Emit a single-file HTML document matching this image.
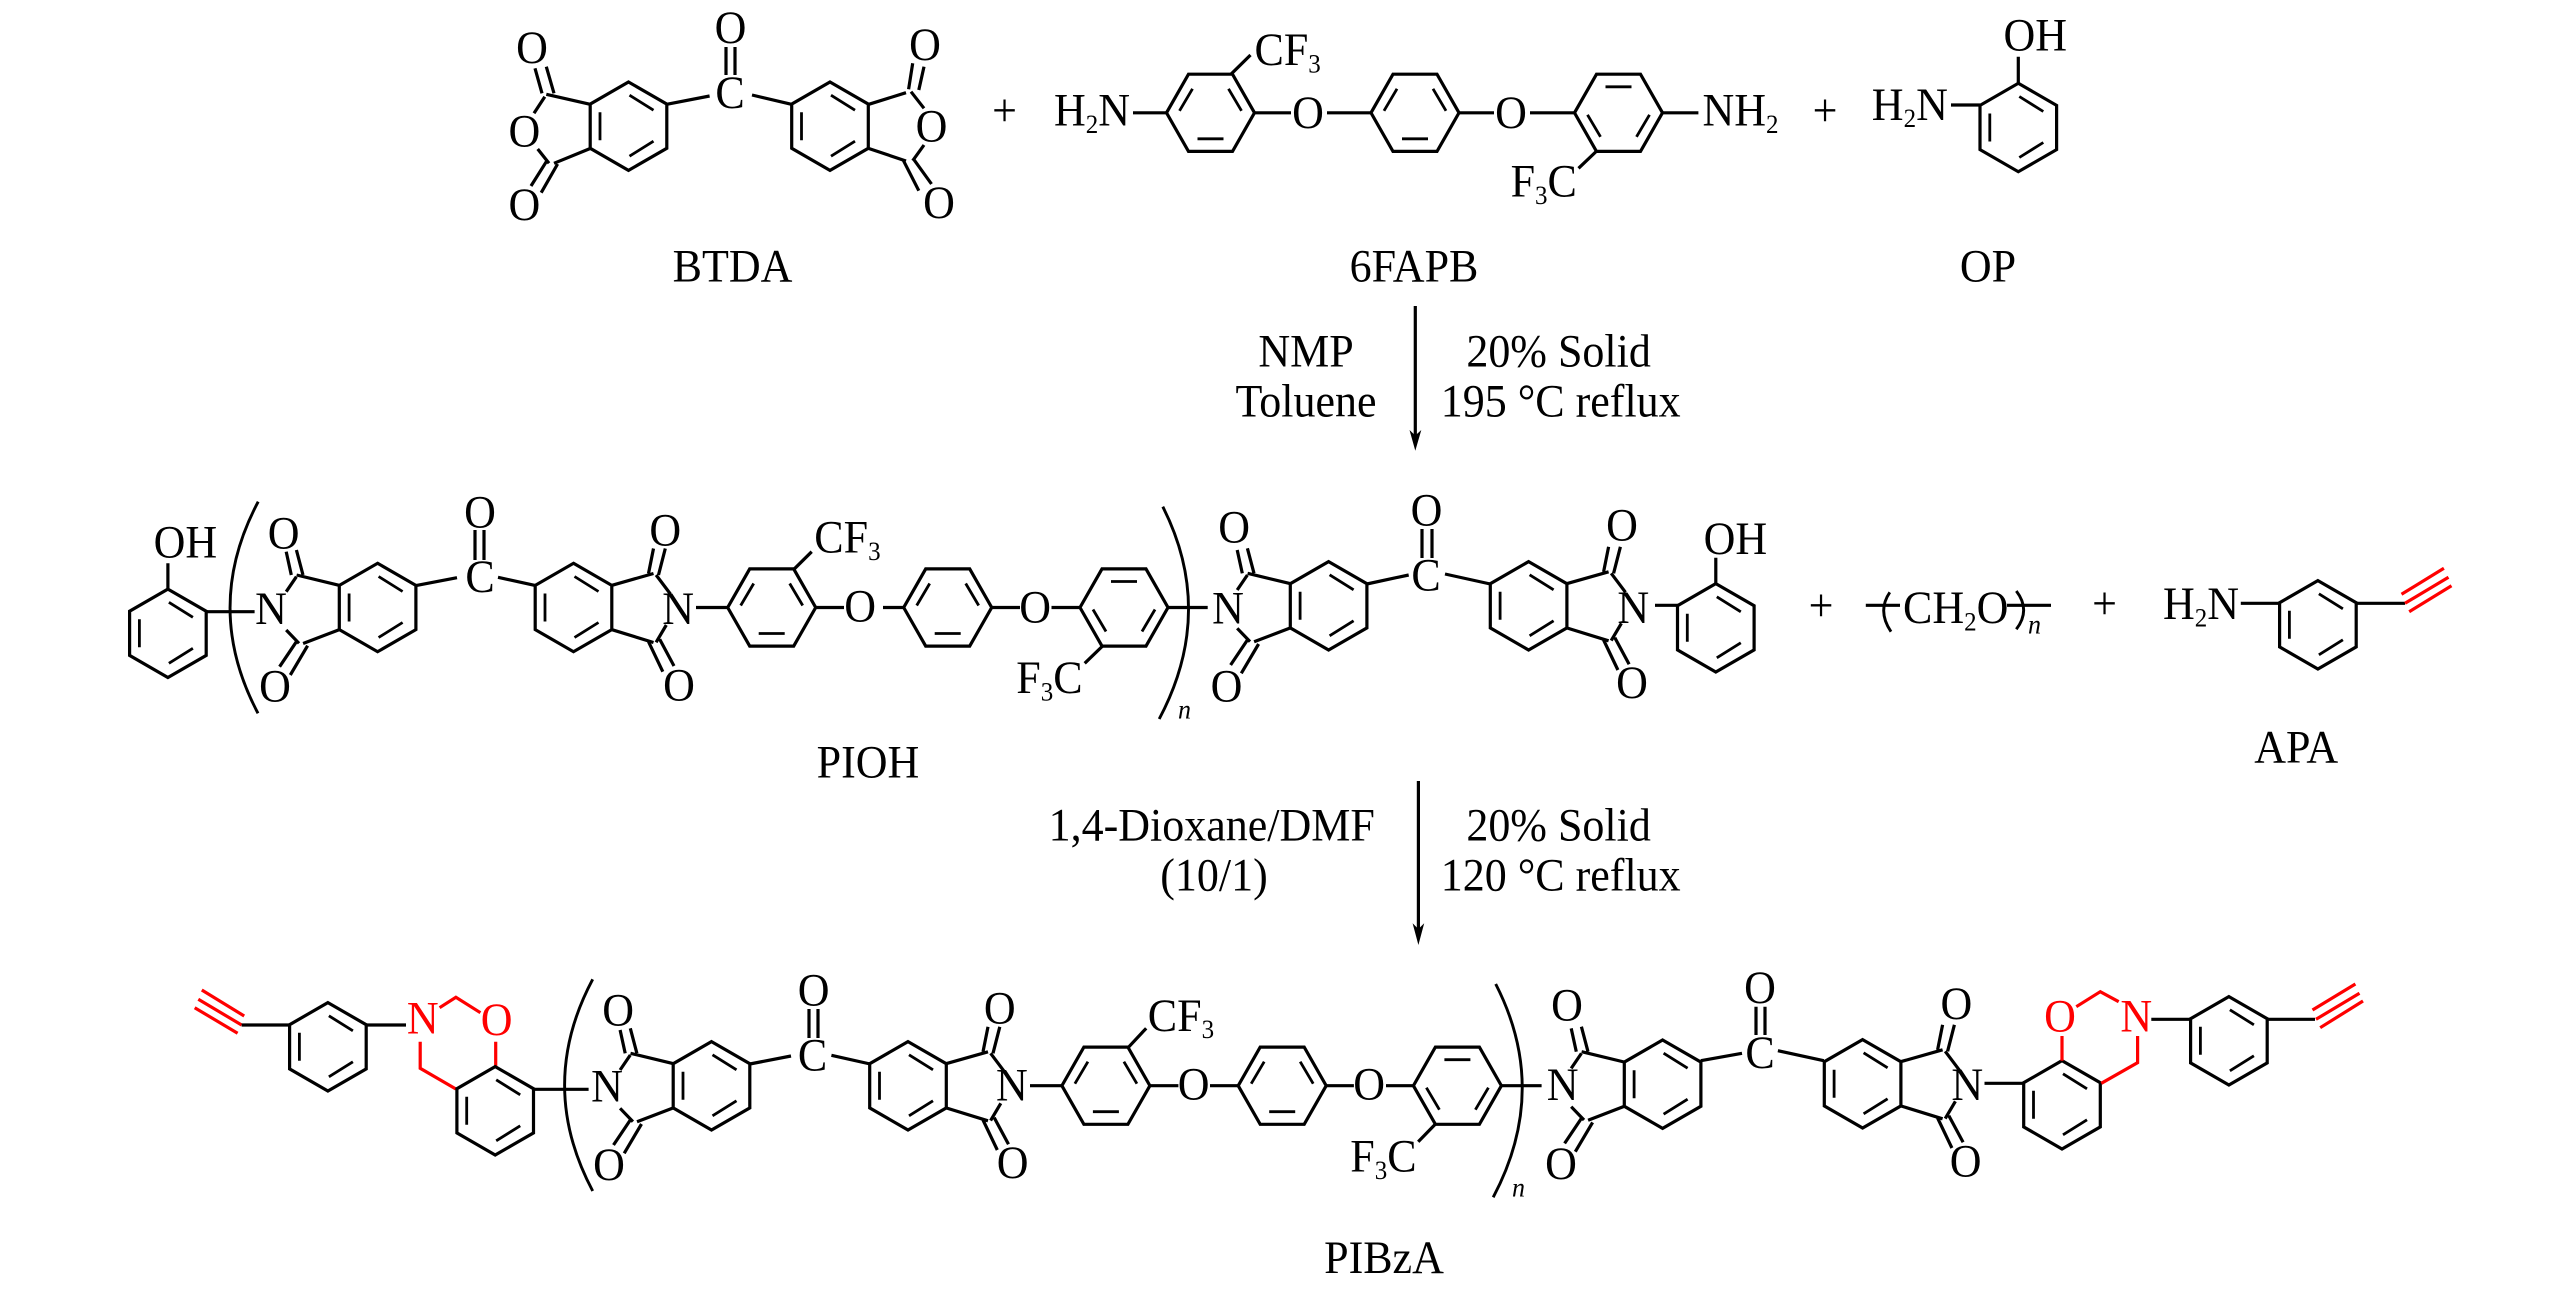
<!DOCTYPE html>
<html lang="en">
<head>
<meta charset="utf-8">
<title>PIBzA synthesis</title>
<style>
html,body{margin:0;padding:0;background:#fff;}
svg{display:block;}
text{font-family:"Liberation Serif",serif;font-size:44px;fill:#000;transform-box:fill-box;transform-origin:50% 80.5%;transform:scaleY(1.06);}
.m{text-anchor:middle;}
.r{fill:#f00;}
.n{font-style:italic;font-size:26px;}
.b{fill:none;stroke:#000;stroke-width:3.2;stroke-linejoin:miter;}
.rb{fill:none;stroke:#f00;stroke-width:3.2;}
.i{fill:none;stroke:#000;stroke-width:2.8;}
.p{fill:none;stroke:#000;stroke-width:2.9;}
tspan.s{font-size:25px;}
</style>
</head>
<body>
<svg xmlns="http://www.w3.org/2000/svg" width="2567" height="1294" viewBox="0 0 2567 1294">
<rect width="2567" height="1294" fill="#fff"/>
<defs>
<g id="A">
<path class="b" d="M0-44.2L38.3-22.1V22.1L0 44.2L-38.3 22.1V-22.1Z"/>
<path class="i" d="M-28.5-14V14M1-31L25-16M1 30L25 15"/>
</g>
<g id="B">
<path class="b" d="M-22-38.6H22L44 0L22 38.6H-22L-44 0Z"/>
<path class="i" d="M-31-2L-18-24M18-24L31-2M-13 26H13"/>
</g>
<g id="C">
<path class="b" d="M-22-38.6H22L44 0L22 38.6H-22L-44 0Z"/>
<path class="i" d="M-31 2L-18 24M18 24L31 2M-13-26H13"/>
</g>
<g id="imL">
<use href="#A"/>
<path class="b" d="M-38.5-22.2L-81-32.5M-38.5 22.2L-74.5 36M-91.4-55.8L-86.3-32.5M-81.2-57.5L-74.6-32.5M-98 59.2L-81.2 34.2M-87.3 67.5L-70 38.2M-81.2-30.8L-91.4-15.8M-91.4 22.5L-78.6 35.8"/>
</g>
<g id="imR">
<use href="#A"/>
<path class="b" d="M38.5-22.2L80-34M38.5 22.2L80 35M75-34L80-59M85-32.5L91.8-59M75 34.2L89.3 64.2M86.2 31.8L100.5 58.5M82.6-32.5L96.9-13.5M92.8 17.5L82.6 34.8"/>
</g>
</defs>

<!-- BTDA -->
<use href="#A" x="628.5" y="126.2"/>
<use href="#A" x="830" y="126.2"/>
<path class="b" d="M666.7 104.3L709.6 96M752 95L791.5 104.3M726 47V75M735 47V75M590.2 104.3L546.3 94.3M590.2 148.5L554 163.3M535 68.3L542 93.3M546.3 66.7L554 93.3M544.8 96.7L534 113.3M537.7 149L549 163.3M531 186L546.3 161.7M541.2 192.7L557.6 164M868.8 104.3L906 92.7M868.8 148.5L906 161M908.6 89.3L912.7 63.3M918.8 90L924 66.7M903.5 160.7L918.8 190.7M913.7 159.3L931.5 184M911 91.7L924 108.3M924 145L912.7 160.7"/>
<text class="m" x="730.5" y="43">O</text>
<text class="m" x="730" y="108">C</text>
<text class="m" x="532" y="63">O</text>
<text class="m" x="524.4" y="146.5">O</text>
<text class="m" x="524.4" y="220">O</text>
<text class="m" x="925" y="60">O</text>
<text class="m" x="931.5" y="141.7">O</text>
<text class="m" x="939" y="218">O</text>
<text class="m" x="1004.5" y="126">+</text>
<text class="m" x="732.5" y="281.7">BTDA</text>

<!-- 6FAPB -->
<use href="#B" x="1210.5" y="112.8"/>
<use href="#B" x="1415" y="112.8"/>
<use href="#C" x="1618.5" y="112.8"/>
<path class="b" d="M1133 112.8H1166.5M1231 74.2L1250.5 55M1254.5 112.8H1291M1327 112.8H1371M1459 112.8H1494M1530 112.8H1574.5M1662.5 112.8H1698.4M1596.3 151.4L1578.5 168.3"/>
<text x="1054" y="125.5">H<tspan class="s" dy="7">2</tspan><tspan dy="-7">N</tspan></text>
<text x="1254.5" y="65">CF<tspan class="s" dy="7">3</tspan></text>
<text class="m" x="1308" y="128">O</text>
<text class="m" x="1511" y="128">O</text>
<text x="1702.5" y="125.5">NH<tspan class="s" dy="7">2</tspan></text>
<text x="1510.6" y="196.7">F<tspan class="s" dy="7">3</tspan><tspan dy="-7">C</tspan></text>
<text class="m" x="1825" y="126">+</text>
<text class="m" x="1414" y="281.7">6FAPB</text>

<!-- OP -->
<use href="#A" x="2018.3" y="127.5"/>
<path class="b" d="M2018.3 56.7V83.3M1951 105H1980"/>
<text x="2003.5" y="50.7">OH</text>
<text x="1871.8" y="120">H<tspan class="s" dy="7">2</tspan><tspan dy="-7">N</tspan></text>
<text class="m" x="1988" y="281.7">OP</text>

<!-- Arrow 1 -->
<path class="b" d="M1415.3 306V440"/>
<path d="M1415.3 450.7L1409.5 430L1415.3 435.5L1421.3 430Z" fill="#000"/>
<text class="m" x="1306" y="366.7">NMP</text>
<text class="m" x="1306" y="416.7">Toluene</text>
<text class="m" x="1558.6" y="366.7">20% Solid</text>
<text class="m" x="1560.7" y="416.7">195 °C reflux</text>

<!-- PIOH -->
<use href="#A" x="167.9" y="633.3"/>
<path class="b" d="M167.9 563.3V589.3M206 611.7H254.6"/>
<text x="153.6" y="557.7">OH</text>
<path class="p" d="M258.2 501.7Q202 607.5 258 713.3"/>
<text class="m" x="271" y="624">N</text>
<use href="#imL" x="377.6" y="607.5"/>
<use href="#imR" x="573.5" y="607.5"/>
<path class="b" d="M415.3 585.7L457 577.7M498 577.3L536.2 585.7M475 530V560M484 530V560"/>
<text class="m" x="283.7" y="548.3">O</text>
<text class="m" x="275" y="701.7">O</text>
<text class="m" x="480" y="592">C</text>
<text class="m" x="480" y="527.5">O</text>
<text class="m" x="678.1" y="624">N</text>
<text class="m" x="665.3" y="545.7">O</text>
<text class="m" x="679" y="700.7">O</text>
<use href="#B" x="771.7" y="607.5"/>
<use href="#B" x="947.7" y="607.5"/>
<use href="#C" x="1124" y="607.5"/>
<path class="b" d="M696 607.5H728M793.9 569.3L811.7 551.7M815 607.5H844M883 607.5H904M991.5 607.5H1020M1051.5 607.5H1080M1102.6 646L1084.7 663.3M1168 607.5H1207.7"/>
<text x="814.3" y="552.7">CF<tspan class="s" dy="7">3</tspan></text>
<text class="m" x="860.2" y="621.7">O</text>
<text class="m" x="1035.2" y="622.7">O</text>
<text x="1016.3" y="693.3">F<tspan class="s" dy="7">3</tspan><tspan dy="-7">C</tspan></text>
<path class="p" d="M1162.8 506.7Q1216 612 1159.2 719"/>
<text class="n m" x="1184.5" y="718.3">n</text>
<text class="m" x="1228" y="623.3">N</text>
<use href="#imL" x="1328.6" y="605.8"/>
<use href="#imR" x="1528.6" y="605.8"/>
<path class="b" d="M1366.8 584L1408.7 575M1445 574L1490.3 584M1422 529V558M1432 529V558"/>
<text class="m" x="1234.2" y="542.7">O</text>
<text class="m" x="1226.5" y="701.7">O</text>
<text class="m" x="1426" y="590.7">C</text>
<text class="m" x="1426.5" y="525.5">O</text>
<text class="m" x="1633.3" y="623">N</text>
<text class="m" x="1622" y="540.7">O</text>
<text class="m" x="1632" y="698">O</text>
<path class="b" d="M1655 605.3H1678M1715.8 557.7V583.3"/>
<use href="#A" x="1715.8" y="627.8"/>
<text x="1703.6" y="554">OH</text>
<text class="m" x="868" y="777.3">PIOH</text>

<!-- plus CH2O -->
<text class="m" x="1821" y="621">+</text>
<path class="b" d="M1865.8 605.3H1900M2007 605.3H2051"/>
<path class="p" d="M1889.8 592.3Q1877 611 1891 631.7M2016.3 591Q2031 610 2016.3 629.3"/>
<text x="1903" y="623.3">CH<tspan class="s" dy="7">2</tspan><tspan dy="-7">O</tspan></text>
<text class="n m" x="2034.5" y="633.3">n</text>
<text class="m" x="2104.6" y="619">+</text>

<!-- APA -->
<use href="#A" x="2317.9" y="624.8"/>
<path class="b" d="M2240.8 603.3H2280M2356.6 603.3H2405"/>
<path class="rb" d="M2401.5 594.3L2443.9 568.3M2405 603.3L2448.5 577.3M2409.2 611.7L2451.5 585.7"/>
<text x="2163" y="619.3">H<tspan class="s" dy="7">2</tspan><tspan dy="-7">N</tspan></text>
<text class="m" x="2296.2" y="762.7">APA</text>

<!-- Arrow 2 -->
<path class="b" d="M1418.4 781V933"/>
<path d="M1418.4 945L1412.6 923.3L1418.4 929L1424.2 923.3Z" fill="#000"/>
<text class="m" x="1211.7" y="840.7">1,4-Dioxane/DMF</text>
<text class="m" x="1214" y="890.7">(10/1)</text>
<text class="m" x="1558.6" y="840.7">20% Solid</text>
<text class="m" x="1560.7" y="890.7">120 °C reflux</text>

<!-- PIBzA -->
<path class="rb" d="M201.8 990L244.2 1016M198.3 999.3L241.6 1025M194.7 1007.7L237.6 1033.3"/>
<path class="b" d="M241.6 1025H290M366.6 1025H406"/>
<use href="#A" x="327.9" y="1046.8"/>
<text class="m r" x="422.8" y="1033.3">N</text>
<text class="m r" x="496.7" y="1035">O</text>
<path class="rb" d="M439.6 1007.7L455.9 997.3L480.4 1012.7M495.7 1041.7V1066.7M420.2 1041.7V1068.3L455.9 1089"/>
<use href="#A" x="495.2" y="1110.8"/>
<path class="b" d="M534 1089.3H588.6"/>
<path class="p" d="M592.7 979.3Q536.5 1085 592.7 1191"/>
<text class="m" x="607" y="1101.7">N</text>
<use href="#imL" x="711.5" y="1085.8"/>
<use href="#imR" x="908" y="1085.8"/>
<path class="b" d="M749.8 1064L791 1056M831.4 1055.3L870.2 1064M809 1009V1038M818 1009V1038"/>
<text class="m" x="618.2" y="1025.7">O</text>
<text class="m" x="609" y="1180">O</text>
<text class="m" x="812.6" y="1070.7">C</text>
<text class="m" x="813.6" y="1005.7">O</text>
<text class="m" x="1011.9" y="1100.7">N</text>
<text class="m" x="999.8" y="1023.3">O</text>
<text class="m" x="1012.6" y="1178">O</text>
<use href="#B" x="1105.9" y="1085.7"/>
<use href="#B" x="1282.2" y="1085.7"/>
<use href="#C" x="1457.4" y="1085.7"/>
<path class="b" d="M1030 1085.7H1062M1128.4 1047.3L1146.2 1028.3M1149.8 1085.7H1178.4M1210 1085.7H1238.6M1325.8 1085.7H1353.9M1386 1085.7H1414M1435.5 1124L1418.2 1141.7M1500.8 1085.7H1541.6"/>
<text x="1147.8" y="1031">CF<tspan class="s" dy="7">3</tspan></text>
<text class="m" x="1193.7" y="1099.3">O</text>
<text class="m" x="1369.2" y="1099.3">O</text>
<text x="1350.3" y="1171.7">F<tspan class="s" dy="7">3</tspan><tspan dy="-7">C</tspan></text>
<path class="p" d="M1495.7 984Q1550 1090 1493.2 1197.3"/>
<text class="n m" x="1518.5" y="1196.7">n</text>
<text class="m" x="1562.6" y="1100">N</text>
<use href="#imL" x="1662.6" y="1084.2"/>
<use href="#imR" x="1862.6" y="1083.8"/>
<path class="b" d="M1700.8 1060.7L1742 1053.3M1777.9 1050.7L1823.8 1060.7M1756 1006.7V1035M1765 1006.7V1035"/>
<text class="m" x="1567" y="1020.7">O</text>
<text class="m" x="1561" y="1179">O</text>
<text class="m" x="1760" y="1068">C</text>
<text class="m" x="1760" y="1003">O</text>
<text class="m" x="1967.3" y="1100">N</text>
<text class="m" x="1956.4" y="1019">O</text>
<text class="m" x="1965.6" y="1176.7">O</text>
<path class="b" d="M1984.5 1083.3H2023.8"/>
<use href="#A" x="2062" y="1104.8"/>
<text class="m r" x="2060" y="1031.7">O</text>
<text class="m r" x="2136.3" y="1031.7">N</text>
<path class="rb" d="M2062 1036V1060.7M2076.3 1006.7L2100.3 991.7L2118.7 1001.7M2137.6 1036V1062.7L2101.3 1083.3"/>
<path class="b" d="M2151.3 1019.3H2191M2267.6 1019.3H2315"/>
<use href="#A" x="2228.9" y="1040.8"/>
<path class="rb" d="M2312.5 1010L2355.4 984M2316 1019.3L2359.5 993.3M2320.2 1027.7L2363 1001"/>
<text class="m" x="1384" y="1273">PIBzA</text>
</svg>
</body>
</html>
